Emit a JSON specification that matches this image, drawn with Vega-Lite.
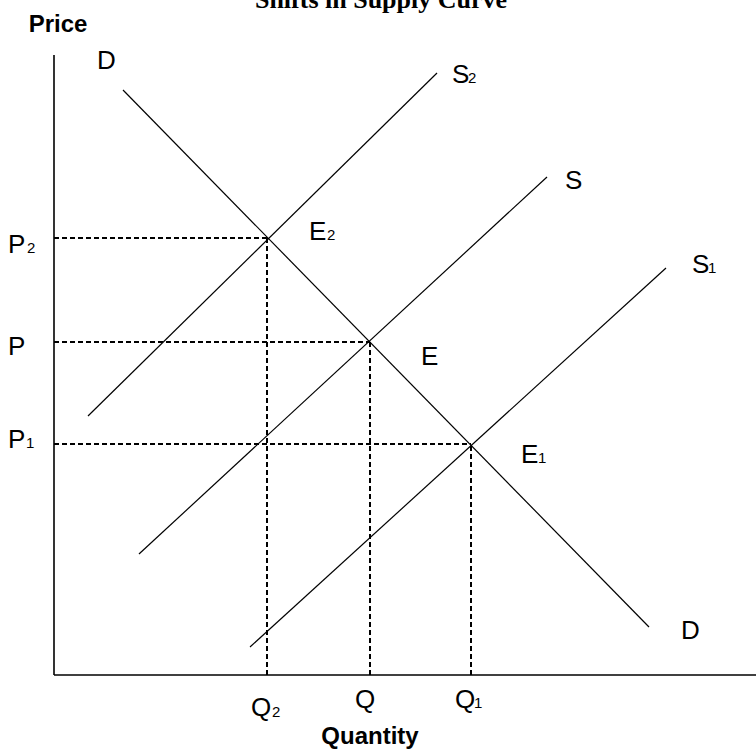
{
  "$schema": "https://vega.github.io/schema/vega-lite/v6.json",
  "width": 756,
  "height": 749,
  "autosize": {"type": "none"},
  "padding": 0,
  "background": "white",
  "config": {"view": {"stroke": null}},
  "datasets": {
    "segments": [
      {"name": "yaxis", "kind": "axis", "x": 0, "y": 0, "x2": 0, "y2": 620},
      {"name": "xaxis", "kind": "axis", "x": 0, "y": 0, "x2": 702, "y2": 0},
      {"name": "D", "kind": "curve", "x": 69, "y": 585, "x2": 595, "y2": 48},
      {"name": "S2", "kind": "curve", "x": 34, "y": 259, "x2": 383, "y2": 602},
      {"name": "S", "kind": "curve", "x": 85, "y": 121, "x2": 493, "y2": 498},
      {"name": "S1", "kind": "curve", "x": 196, "y": 28, "x2": 612, "y2": 407},
      {"name": "P2", "kind": "dash", "x": 0, "y": 437, "x2": 213, "y2": 437},
      {"name": "P", "kind": "dash", "x": 0, "y": 333, "x2": 316, "y2": 333},
      {"name": "P1", "kind": "dash", "x": 0, "y": 231, "x2": 417, "y2": 231},
      {"name": "Q2", "kind": "dash", "x": 213, "y": 0, "x2": 213, "y2": 437},
      {"name": "Q", "kind": "dash", "x": 316, "y": 0, "x2": 316, "y2": 333},
      {"name": "Q1", "kind": "dash", "x": 417, "y": 0, "x2": 417, "y2": 231}
    ],
    "labels": [
      {"role": "main", "text": "D", "x": 43, "y": 606},
      {"role": "main", "text": "D", "x": 627, "y": 36},
      {"role": "main", "text": "S", "x": 398, "y": 592},
      {"role": "sub", "text": "2", "x": 414, "y": 592},
      {"role": "main", "text": "S", "x": 511, "y": 486},
      {"role": "main", "text": "S", "x": 638, "y": 402},
      {"role": "sub", "text": "1", "x": 654, "y": 402},
      {"role": "main", "text": "E", "x": 255, "y": 435},
      {"role": "sub", "text": "2", "x": 273, "y": 435},
      {"role": "main", "text": "E", "x": 367, "y": 310},
      {"role": "main", "text": "E", "x": 467, "y": 212},
      {"role": "sub", "text": "1", "x": 484, "y": 212},
      {"role": "main", "text": "P", "x": -46, "y": 422},
      {"role": "sub", "text": "2", "x": -27, "y": 422},
      {"role": "main", "text": "P", "x": -46, "y": 320},
      {"role": "main", "text": "P", "x": -46, "y": 227},
      {"role": "sub", "text": "1", "x": -28, "y": 227},
      {"role": "main", "text": "Q", "x": 197, "y": -41},
      {"role": "sub", "text": "2", "x": 218, "y": -42},
      {"role": "main", "text": "Q", "x": 301, "y": -33},
      {"role": "main", "text": "Q", "x": 401, "y": -33},
      {"role": "sub", "text": "1", "x": 420, "y": -33},
      {"role": "bold", "text": "Price", "x": 4, "y": 643},
      {"role": "bold", "text": "Quantity", "x": 316, "y": -69},
      {"role": "title", "text": "Shifts in Supply Curve", "x": 327, "y": 667}
    ]
  },
  "encoding": {
    "x": {"field": "x", "type": "quantitative", "axis": null, "scale": {"domain": [-54, 702], "nice": false, "zero": false}},
    "y": {"field": "y", "type": "quantitative", "axis": null, "scale": {"domain": [-74, 675], "nice": false, "zero": false}}
  },
  "layer": [
    {
      "data": {"name": "segments"},
      "transform": [{"filter": "datum.kind === 'dash'"}],
      "mark": {"type": "rule", "color": "black", "strokeWidth": 2, "strokeDash": [5, 3]},
      "encoding": {"x2": {"field": "x2"}, "y2": {"field": "y2"}}
    },
    {
      "data": {"name": "segments"},
      "transform": [{"filter": "datum.kind === 'curve'"}],
      "mark": {"type": "rule", "color": "black", "strokeWidth": 1.2},
      "encoding": {"x2": {"field": "x2"}, "y2": {"field": "y2"}}
    },
    {
      "data": {"name": "segments"},
      "transform": [{"filter": "datum.kind === 'axis'"}],
      "mark": {"type": "rule", "color": "black", "strokeWidth": 1.6},
      "encoding": {"x2": {"field": "x2"}, "y2": {"field": "y2"}}
    },
    {
      "data": {"name": "labels"},
      "transform": [{"filter": "datum.role === 'main'"}],
      "mark": {"type": "text", "font": "Liberation Sans", "fontSize": 26, "align": "left", "baseline": "alphabetic", "color": "black"},
      "encoding": {"text": {"field": "text"}}
    },
    {
      "data": {"name": "labels"},
      "transform": [{"filter": "datum.role === 'sub'"}],
      "mark": {"type": "text", "font": "Liberation Sans", "fontSize": 15, "align": "left", "baseline": "alphabetic", "color": "black"},
      "encoding": {"text": {"field": "text"}}
    },
    {
      "data": {"name": "labels"},
      "transform": [{"filter": "datum.role === 'bold'"}],
      "mark": {"type": "text", "font": "Liberation Sans", "fontSize": 24, "fontWeight": "bold", "align": "center", "baseline": "alphabetic", "color": "black"},
      "encoding": {"text": {"field": "text"}}
    },
    {
      "data": {"name": "labels"},
      "transform": [{"filter": "datum.role === 'title'"}],
      "mark": {"type": "text", "font": "Liberation Serif", "fontSize": 26, "fontWeight": "bold", "align": "center", "baseline": "alphabetic", "color": "black"},
      "encoding": {"text": {"field": "text"}}
    }
  ]
}
